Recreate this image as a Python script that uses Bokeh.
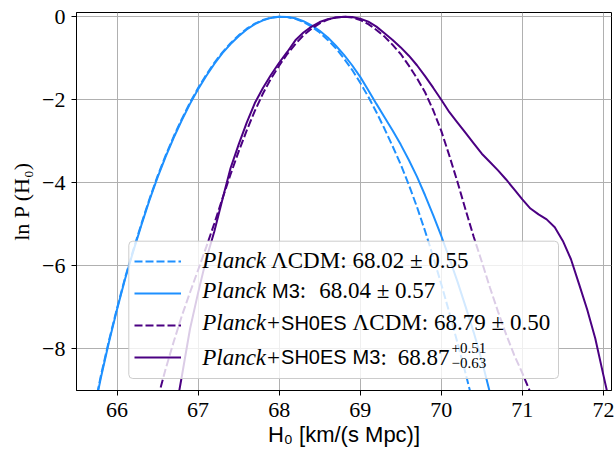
from bokeh.plotting import figure
from bokeh.models import Range1d, FixedTicker, Legend, LegendItem, Label, BoxAnnotation
from bokeh.embed import file_html
from bokeh.resources import INLINE

# ---------------- data ----------------
H0_planck_lcdm = [65.7, 65.8, 65.9, 66.0, 66.1, 66.2, 66.3, 66.4, 66.5, 66.6, 66.7, 66.8, 66.9,
                  67.0, 67.1, 67.2, 67.3, 67.4, 67.5, 67.6, 67.7, 67.8, 67.9, 68.0, 68.1, 68.2,
                  68.3, 68.4, 68.5, 68.6, 68.7, 68.8, 68.9, 69.0, 69.1, 69.2, 69.3, 69.4, 69.5,
                  69.6, 69.7, 69.8, 69.9, 70.0, 70.1, 70.2, 70.3, 70.4]
lnP_planck_lcdm = [-9.6, -8.65, -7.8, -7.02, -6.28, -5.62, -4.99, -4.39, -3.84, -3.34, -2.88, -2.46, -2.07,
                   -1.72, -1.40, -1.11, -0.86, -0.64, -0.45, -0.29, -0.17, -0.08, -0.02, 0.0, -0.01, -0.05,
                   -0.13, -0.24, -0.38, -0.56, -0.76, -1.01, -1.28, -1.59, -1.93, -2.30, -2.70, -3.12, -3.56,
                   -4.05, -4.58, -5.16, -5.78, -6.44, -7.13, -7.85, -8.59, -9.36]

H0_planck_m3 = [65.7, 65.8, 65.9, 66.0, 66.1, 66.2, 66.3, 66.4, 66.5, 66.6, 66.7, 66.8, 66.9,
                67.0, 67.1, 67.2, 67.3, 67.4, 67.5, 67.6, 67.7, 67.8, 67.9, 68.0, 68.1, 68.2,
                68.3, 68.4, 68.5, 68.6, 68.7, 68.8, 68.9, 69.0, 69.1, 69.2, 69.3, 69.4, 69.5,
                69.6, 69.7, 69.8, 69.9, 70.0, 70.1, 70.2, 70.3, 70.4, 70.5, 70.6, 70.7]
lnP_planck_m3 = [-9.65, -8.7, -7.84, -7.05, -6.31, -5.65, -5.02, -4.42, -3.87, -3.37, -2.91, -2.49, -2.10,
                 -1.75, -1.43, -1.14, -0.88, -0.66, -0.47, -0.31, -0.18, -0.09, -0.03, 0.0, -0.01, -0.04,
                 -0.11, -0.21, -0.34, -0.50, -0.70, -0.92, -1.17, -1.45, -1.77, -2.10, -2.42, -2.74, -3.08,
                 -3.45, -3.85, -4.30, -4.78, -5.28, -5.82, -6.38, -6.98, -7.60, -8.28, -9.05, -9.8]

H0_sh0es_lcdm = [66.4, 66.5, 66.6, 66.7, 66.8, 66.9, 67.0, 67.1, 67.2, 67.3, 67.4, 67.5, 67.6,
                 67.7, 67.8, 67.9, 68.0, 68.1, 68.2, 68.3, 68.4, 68.5, 68.6, 68.7, 68.8, 68.9,
                 69.0, 69.1, 69.2, 69.3, 69.4, 69.5, 69.6, 69.7, 69.8, 69.9, 70.0, 70.1, 70.2,
                 70.3, 70.4, 70.5, 70.6, 70.7, 70.8, 70.9, 71.0, 71.1, 71.2]
lnP_sh0es_lcdm = [-9.95, -9.2, -8.48, -7.82, -7.2, -6.64, -6.1, -5.55, -4.98, -4.38, -3.8, -3.25, -2.74,
                  -2.27, -1.85, -1.49, -1.18, -0.90, -0.66, -0.45, -0.29, -0.16, -0.07, -0.02, 0.0, -0.02,
                  -0.08, -0.18, -0.32, -0.48, -0.68, -0.90, -1.18, -1.48, -1.82, -2.25, -2.75, -3.35, -3.98,
                  -4.65, -5.30, -5.90, -6.52, -7.10, -7.65, -8.15, -8.58, -9.05, -9.5]

H0_sh0es_m3 = [66.7, 66.8, 66.9, 67.0, 67.1, 67.2, 67.3, 67.4, 67.5, 67.6, 67.7, 67.8, 67.9,
               68.0, 68.1, 68.2, 68.3, 68.4, 68.5, 68.6, 68.7, 68.8, 68.9, 69.0, 69.1, 69.2,
               69.3, 69.4, 69.5, 69.6, 69.7, 69.8, 69.9, 70.0, 70.1, 70.2, 70.3, 70.4, 70.5,
               70.6, 70.7, 70.8, 70.9, 71.0, 71.1, 71.2, 71.3, 71.4, 71.5, 71.6, 71.7, 71.8,
               71.9, 72.0, 72.1]
lnP_sh0es_m3 = [-9.75, -8.65, -7.52, -6.65, -5.84, -5.17, -4.40, -3.65, -3.08, -2.55, -2.08, -1.72, -1.40,
                -1.11, -0.85, -0.57, -0.38, -0.24, -0.13, -0.06, -0.02, 0.0, -0.01, -0.05, -0.12, -0.24,
                -0.40, -0.56, -0.74, -0.94, -1.17, -1.43, -1.71, -2.00, -2.30, -2.55, -2.80, -3.05, -3.30,
                -3.50, -3.70, -3.92, -4.16, -4.40, -4.62, -4.76, -4.88, -5.07, -5.40, -5.84, -6.44, -7.05,
                -7.75, -8.63, -9.5]

x_ticks = [66, 67, 68, 69, 70, 71, 72]
y_ticks = [-8, -6, -4, -2, 0]
y_tick_labels = ["−8", "−6", "−4", "−2", "0"]

legend_values = ["68.02 ± 0.55", "68.04 ± 0.57", "68.79 ± 0.50", "68.87"]
m3_sup, m3_sub = "+0.51", "−0.63"

BLUE = "#1e90ff"
PURPLE = "#4b0082"
SERIF = "Liberation Serif"
SANS = "Liberation Sans"

# ---------------- figure ----------------
p = figure(width=614, height=449, x_range=Range1d(65.5, 72.1), y_range=Range1d(-9.0, 0.1),
           output_backend="svg", toolbar_location=None,
           min_border_left=76, min_border_right=3, min_border_top=12, min_border_bottom=57)
p.background_fill_color = "white"
p.border_fill_color = "white"
p.outline_line_color = "black"
p.outline_line_width = 1
p.outline_line_alpha = 1

p.xaxis.ticker = FixedTicker(ticks=x_ticks)
p.yaxis.ticker = FixedTicker(ticks=y_ticks)
p.xgrid.ticker = FixedTicker(ticks=x_ticks)
p.ygrid.ticker = FixedTicker(ticks=y_ticks)
p.yaxis.major_label_overrides = {t: s for t, s in zip(y_ticks, y_tick_labels)}
p.xaxis.major_label_overrides = {t: str(t) for t in x_ticks}

for ax in (p.xaxis[0], p.yaxis[0]):
    ax.axis_line_color = "black"
    ax.axis_line_width = 1
    ax.major_tick_line_color = "black"
    ax.major_tick_line_width = 1
    ax.major_tick_out = 5
    ax.major_tick_in = 0
    ax.minor_tick_line_color = None
    ax.major_label_text_font = SERIF
    ax.major_label_text_font_size = "22px"
    ax.major_label_text_color = "black"
    ax.axis_label_text_color = "black"
    ax.axis_label_text_font_size = "22px"
    ax.axis_label_text_font_style = "normal"
p.xaxis.major_label_standoff = 7
p.yaxis.major_label_standoff = 6

p.xaxis.axis_label = "H₀ [km/(s Mpc)]"
p.xaxis.axis_label_text_font = SANS
p.xaxis.axis_label_standoff = 2
p.yaxis.axis_label = "ln P (H₀)"
p.yaxis.axis_label_text_font = SERIF
p.yaxis.axis_label_standoff = 5

p.grid.grid_line_color = "#b0b0b0"
p.grid.grid_line_width = 1

r1 = p.line(H0_planck_lcdm, lnP_planck_lcdm, line_color=BLUE, line_width=2, line_dash="8 3")
r2 = p.line(H0_planck_m3, lnP_planck_m3, line_color=BLUE, line_width=2)
r3 = p.line(H0_sh0es_lcdm, lnP_sh0es_lcdm, line_color=PURPLE, line_width=2, line_dash="8 3")
r4 = p.line(H0_sh0es_m3, lnP_sh0es_m3, line_color=PURPLE, line_width=2)

# legend frame: semi-transparent white box drawn just above the curves
box = BoxAnnotation(left=52.3, right=482, bottom=12, top=149.3,
                    left_units="screen", right_units="screen", bottom_units="screen", top_units="screen",
                    fill_color="white", fill_alpha=0.8, line_color="#cccccc", line_width=1, line_alpha=1,
                    level="glyph")
if "border_radius" in BoxAnnotation.properties():
    box.border_radius = 4
p.add_layout(box)

# legend (sample lines only; transparent so the box above shows)
legend = Legend(items=[LegendItem(label=" ", renderers=[r]) for r in (r1, r2, r3, r4)],
                location=(58, 22), glyph_width=47, glyph_height=20, label_width=357,
                label_height=22, label_standoff=10, spacing=10, padding=8, margin=0,
                border_line_color=None, background_fill_alpha=0.0,
                label_text_font_size="13px")
p.add_layout(legend)

# ---------------- mixed-style legend texts ----------------
EM = {
    "rm": {"0": .5, "1": .5, "2": .5, "3": .5, "4": .5, "5": .5, "6": .5, "7": .5, "8": .5, "9": .5,
           ".": .25, " ": .25, "±": .564, ":": .278, "+": .564, "−": .564, "Λ": .722, "C": .667,
           "D": .722, "M": .889},
    "it": {"P": .611, "l": .278, "a": .5, "n": .5, "c": .444, "k": .444},
    "sf": {"S": .667, "H": .722, "0": .556, "E": .667, "M": .833, "3": .556},
}
FONT = {"rm": (SERIF, "normal"), "it": (SERIF, "italic"), "sf": (SANS, "normal")}


def width(s, kind, size):
    return sum(EM[kind].get(c, 0.5) for c in s) * size


def label(text, kind, size, x, y):
    font, style = FONT[kind]
    p.add_layout(Label(x=x, y=y, x_units="screen", y_units="screen", text=text,
                       text_font=font, text_font_style=style, text_font_size=f"{size}px",
                       text_color="black", text_align="left", text_baseline="alphabetic"))


def row(pieces, x0, y):
    x = x0
    for text, kind, size, gap in pieces:
        x += gap
        label(text, kind, size, x, y)
        x += width(text, kind, size)
    return x


FR_LEFT, FR_BOTTOM = 76, 392   # frame position on the canvas
LX = 201.7 - FR_LEFT
rows_y = [FR_BOTTOM - b for b in (262, 292, 324, 358.5)]

row([("Planck", "it", 23, 0), ("ΛCDM:", "rm", 23, 5), (legend_values[0], "rm", 23, 6)], LX, rows_y[0])
row([("Planck", "it", 23, 0), ("M3", "sf", 20, 6), (":", "rm", 23, 0), (legend_values[1], "rm", 23, 13)],
    LX, rows_y[1])
row([("Planck", "it", 23, 0), ("+", "rm", 23, 1), ("SH0ES", "sf", 20, 1), ("ΛCDM:", "rm", 23, 6),
     (legend_values[2], "rm", 23, 6)], LX, rows_y[2])
xe = row([("Planck", "it", 23, 0), ("+", "rm", 23, 1), ("SH0ES", "sf", 20, 1), ("M3", "sf", 20, 6),
          (":", "rm", 23, 0), (legend_values[3], "rm", 23, 11)], LX, rows_y[3])
label(m3_sup, "rm", 15, xe + 2, FR_BOTTOM - 349)
label(m3_sub, "rm", 15, xe + 2, FR_BOTTOM - 364)

open("out.html", "w").write(file_html(p, INLINE))
